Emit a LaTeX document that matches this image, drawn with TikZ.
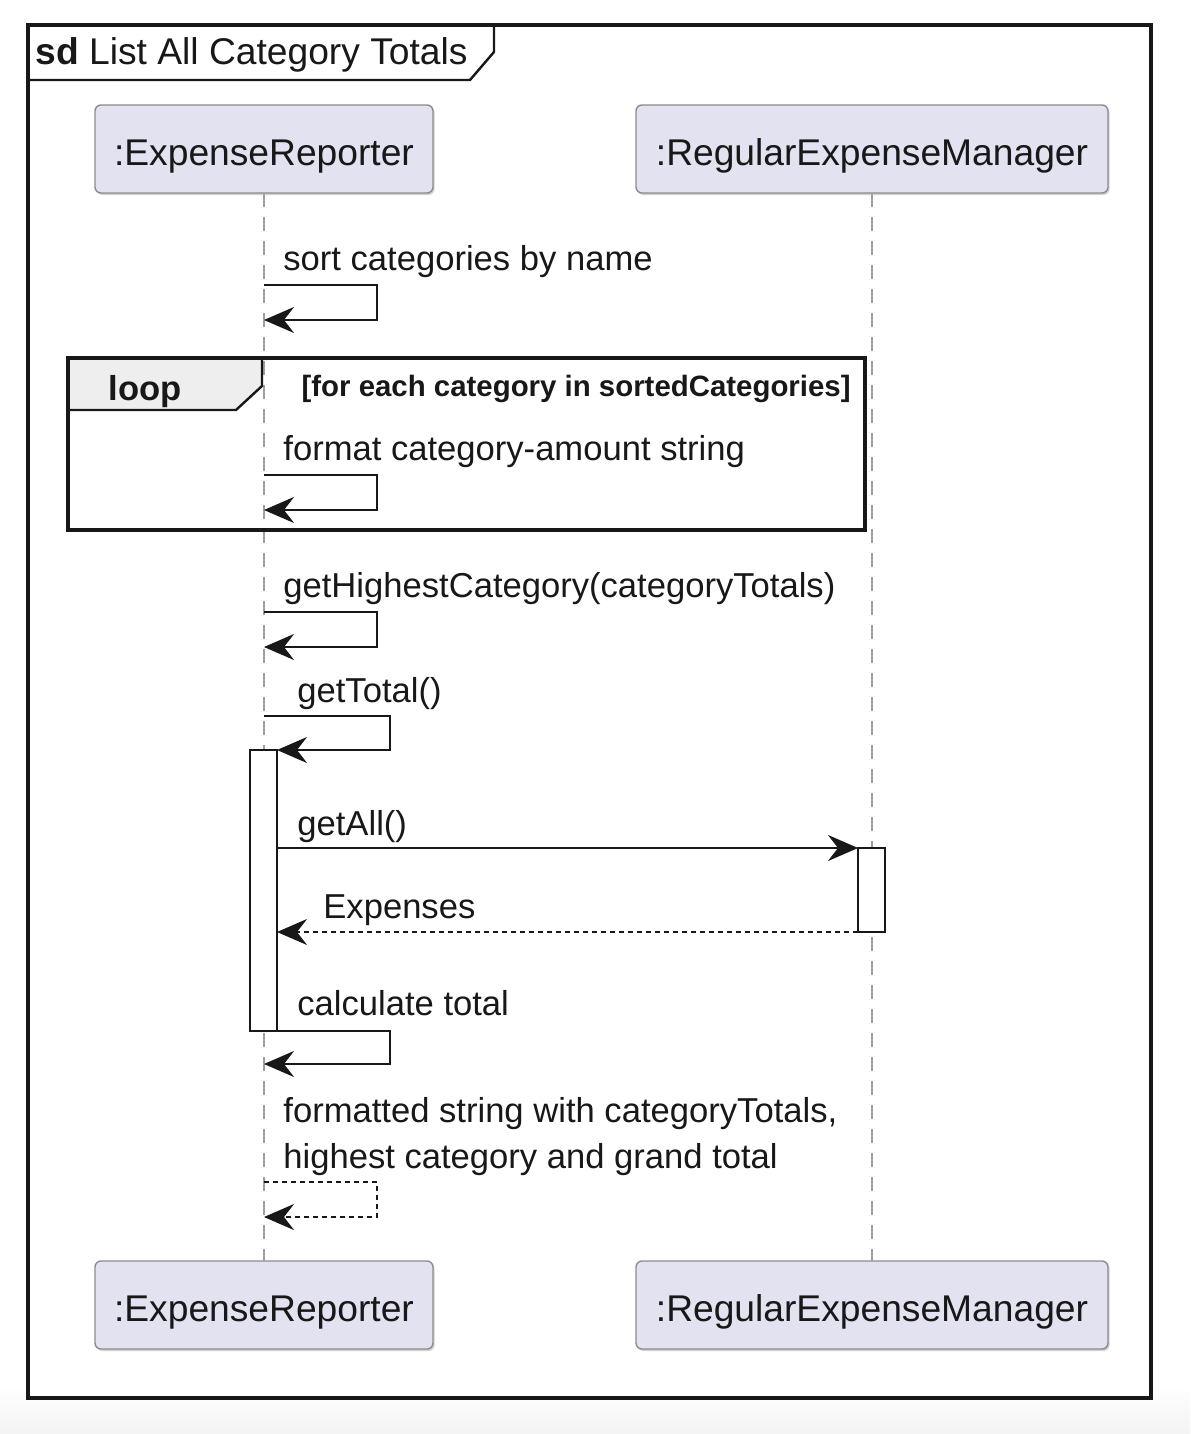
\documentclass[tikz,border=0pt]{standalone}
\usepackage{fontspec}
\setmainfont{Liberation Sans}
\usetikzlibrary{arrows.meta,calc,shadows}
\definecolor{partfill}{HTML}{E2E2F0}
\definecolor{partline}{HTML}{8C8C8C}
\definecolor{tabfill}{HTML}{EEEEEE}
\definecolor{ink}{HTML}{181818}
\begin{document}
\begin{tikzpicture}[x=0.5pt,y=-0.5pt,
  participant/.style={draw=partline, fill=partfill, rounded corners=3pt, line width=0.7pt,
    minimum height=44pt, inner sep=0pt, outer sep=0pt, text height=17pt, text depth=1pt,
    font=\fontsize{18.6}{22}\selectfont, text=ink,
    drop shadow={shadow xshift=0.8pt, shadow yshift=-1pt, opacity=0.35, fill=gray}},
  lifeline/.style={draw=gray!75, line width=0.7pt, dash pattern=on 7pt off 5pt},
  msg/.style={draw=ink, line width=1.1pt, -{Stealth[length=15pt,width=13pt,inset=5pt]}},
  ret/.style={msg, dash pattern=on 2.5pt off 2pt},
  lbl/.style={anchor=base west, inner sep=0pt, font=\fontsize{17.3}{23}\selectfont, text=ink},
  act/.style={draw=ink, fill=white, line width=1.1pt, inner sep=0pt, outer sep=0pt, minimum width=13.5pt}
]
% canvas
\useasboundingbox (0,0) rectangle (1190,1434);
\fill[white] (0,0) rectangle (1190,1434);
\shade[top color=white, bottom color=gray!9] (0,1385) rectangle (1190,1434);
\fill[white] (28,25) rectangle (1151,1398);

% frame
\draw[ink, line width=1.6pt] (28,25) rectangle (1151,1398);
\draw[ink, line width=1.2pt] (28,80) -- (470,80) -- (494,52) -- (494,25);
\node[anchor=base west, inner sep=0pt, font=\fontsize{18.6}{22}\selectfont, text=ink] (title) at (35,65)
  {\textbf{sd} List All Category Totals};

% participants
\node[participant, minimum width=169pt] (er) at (264,149) {:ExpenseReporter};
\node[participant, minimum width=236pt] (rem) at (872,149) {:RegularExpenseManager};
\node[participant, minimum width=169pt] (erb) at (264,1305) {:ExpenseReporter};
\node[participant, minimum width=236pt] (remb) at (872,1305) {:RegularExpenseManager};

% lifelines
\draw[lifeline] (er.south) -- (erb.north);
\draw[lifeline] (rem.south) -- (remb.north);

% message 1
\node[lbl] (l1) at (283,270) {sort categories by name};
\coordinate (m1s) at (264,285);
\coordinate (m1e) at (264,320);
\draw[msg] (m1s) -- ++(113,0) |- (m1e);

% loop
\draw[ink, line width=1.6pt] (68,358) rectangle (865,530);
\draw[ink, line width=1.2pt, fill=tabfill] (68,358) -- (262,358) -- (262,386) -- (236,410) -- (68,410) -- cycle;
\draw[ink, line width=1.6pt] (68,358) rectangle (865,530);
\node[anchor=base west, inner sep=0pt, font=\bfseries\fontsize{17.3}{22}\selectfont, text=ink] (looplbl) at (108,400) {loop};
\node[anchor=base east, inner sep=0pt, font=\bfseries\fontsize{14.7}{18}\selectfont, text=ink] (guard) at (851,396)
  {[for each category in sortedCategories]};

\node[lbl] (l2) at (283,460) {format category-amount string};
\coordinate (m2s) at (264,475);
\coordinate (m2e) at (264,510);
\draw[msg] (m2s) -- ++(113,0) |- (m2e);

% getHighestCategory
\node[lbl] (l3) at (283,597) {getHighestCategory(categoryTotals)};
\coordinate (m3s) at (264,612);
\coordinate (m3e) at (264,647);
\draw[msg] (m3s) -- ++(113,0) |- (m3e);

% activations
\node[act, minimum height=140.5pt] (act1) at (263.5,890.5) {};
\node[act, minimum height=42pt] (act2) at (871.5,890) {};

% getTotal
\node[lbl] (l4) at (297,702) {getTotal()};
\coordinate (m4s) at (264,716);
\draw[msg] (m4s) -- ++(126,0) |- (act1.north east);

% getAll
\node[lbl] (l5) at (297,835) {getAll()};
\draw[msg] (act1.east |- act2.north west) -- (act2.north west);

% Expenses
\node[lbl] (l6) at (323,918) {Expenses};
\draw[ret] (act2.south west) -- (act1.east |- act2.south west);

% calculate total
\node[lbl] (l7) at (297,1015) {calculate total};
\coordinate (m7e) at (264,1064);
\draw[msg] (act1.south east) -- ++(113,0) |- (m7e);

% formatted string
\node[lbl] (l8) at (283,1122) {formatted string with categoryTotals,};
\node[lbl] (l9) at (283,1168) {highest category and grand total};
\coordinate (m8s) at (264,1182);
\coordinate (m8e) at (264,1217);
\draw[ret] (m8s) -- ++(113,0) |- (m8e);
\end{tikzpicture}
\end{document}
